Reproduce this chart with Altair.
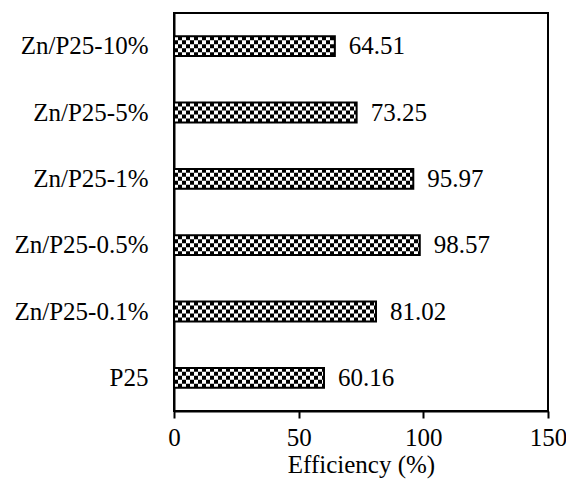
import altair as alt
import pandas as pd

categories = ["Zn/P25-10%", "Zn/P25-5%", "Zn/P25-1%", "Zn/P25-0.5%", "Zn/P25-0.1%", "P25"]
values = [64.51, 73.25, 95.97, 98.57, 81.02, 60.16]
x_ticks = [0, 50, 100, 150]

df = pd.DataFrame({"cat": categories, "val": values})
df["label"] = [f"{v:.2f}" for v in values]

FONT = "Times New Roman, Liberation Serif, serif"
FS = 25
x = alt.X("val:Q", scale=alt.Scale(domain=[0, 150], nice=False),
          axis=alt.Axis(values=x_ticks, title="Efficiency (%)", grid=False,
                        tickSize=7, tickWidth=2, tickColor="black",
                        domainWidth=2, domainColor="black", labelFlush=False,
                        labelFont=FONT, labelFontSize=FS, labelColor="black", labelPadding=7,
                        titleFont=FONT, titleFontSize=FS, titleFontWeight="normal",
                        titleColor="black", titlePadding=2))
y = alt.Y("cat:N", sort=categories,
          scale=alt.Scale(paddingInner=0.7, paddingOuter=0.35),
          axis=alt.Axis(title=None, ticks=False, domainWidth=2, domainColor="black",
                        labelFont=FONT, labelFontSize=FS, labelColor="black", labelPadding=26))

base = alt.Chart(df)
bars = base.mark_bar(color="black").encode(x=x, y=y)
rows = []
for i, off in enumerate([-8, -4, 0, 4, 8]):
    rows.append(base.mark_rule(color="white", strokeWidth=4, strokeDash=[4, 4],
                               strokeDashOffset=(0 if i % 2 == 0 else 4), yOffset=off)
                .encode(x=alt.X("x0:Q"), x2="val:Q", y=alt.Y("cat:N", sort=categories))
                .transform_calculate(x0="0"))
outline = base.mark_bar(fill=None, stroke="black", strokeWidth=2, fillOpacity=0).encode(x=x, y=y)
text = base.mark_text(align="left", baseline="middle", dx=14, font=FONT, fontSize=FS,
                      color="black").encode(x=x, y=y, text="label:N")

chart = alt.layer(bars, *rows, outline, text).properties(
    width=374, height=398,
    autosize=alt.AutoSizeParams(type="none"),
    padding={"left": 166, "top": 5, "right": 18, "bottom": 77},
).configure_view(stroke="black", strokeWidth=2)

chart.save("out.html", embed_options={"renderer": "svg", "actions": False})
